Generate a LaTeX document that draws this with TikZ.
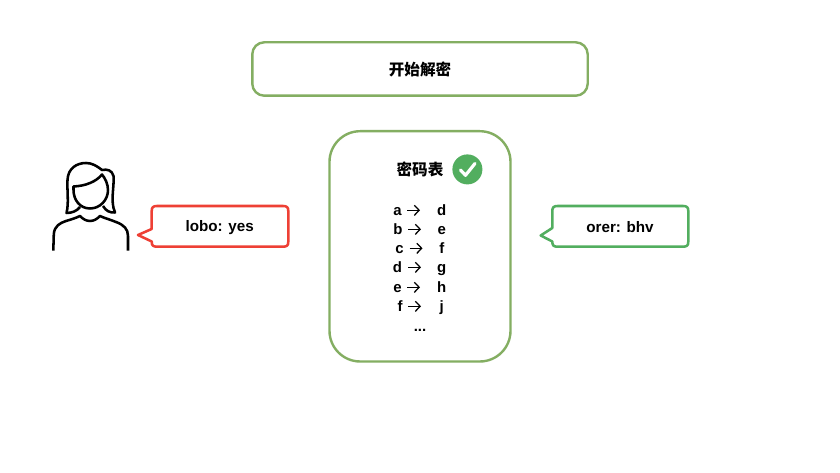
\documentclass[tikz,border=0pt]{standalone}
\usetikzlibrary{arrows.meta}
\usepackage{fontspec}
\setmainfont{Liberation Sans}
\newfontfamily\cjk{Noto Sans CJK SC}
\definecolor{boxgreen}{HTML}{84AE62}
\definecolor{okgreen}{HTML}{52AE5F}
\definecolor{alertred}{HTML}{EE4035}
\tikzset{
  panel/.style={draw=boxgreen,line width=1.8pt,fill=white},
  bubble/.style={line width=1.9pt,line join=round,fill=white},
  figure line/.style={line width=1.9pt,line cap=butt,line join=round,draw=black},
  label/.style={font=\fontsize{11.4}{13}\selectfont\bfseries,text=black,inner sep=0pt},
  title/.style={font=\fontsize{11.7}{13}\selectfont\cjk\bfseries,text=black,inner sep=0pt},
  row/.style={font=\fontsize{11.2}{13}\selectfont\bfseries,text=black,inner sep=0pt,anchor=base},
  rowarrow/.style={draw=black,line width=0.95pt,-{Straight Barb[length=3.6pt,width=7.6pt,line width=0.95pt]}}
}
\begin{document}
\begin{tikzpicture}[x=0.75pt,y=-0.75pt]
\useasboundingbox (0,0) rectangle (840,473);
\fill[white] (0,0) rectangle (840,473);
% top box
\draw[panel,rounded corners=9pt] (252.3,42.3) rectangle (587.7,95.7);
\node[title] (start) at (420,69) {开始解密};
% table box
\draw[panel,rounded corners=23pt] (329.5,131.2) rectangle (510.5,361.5);
\node[title] (tabletitle) at (420,169) {密码表};
\fill[okgreen] (467.4,169.4) circle (15);
\draw[white,line width=2.4pt,line cap=round,line join=round] (460.5,170) -- (465.5,175.3) -- (475,163.5);
% rows
\foreach \nm/\l/\r/\lx/\ax/\y in {ra/a/d/397.5/413.5/215,rb/b/e/398/414.5/234,rc/c/f/399.5/416/253,rd/d/g/397.5/414.5/272,re/e/h/397.5/413.5/292,rf/f/j/400/414.5/311}{
  \node[row] (\nm l) at (\lx,\y+1) {\l};
  \coordinate (\nm t) at (\ax-6.5,\y-4.7);
  \coordinate (\nm h) at (\ax+6.5,\y-4.7);
  \draw[rowarrow] (\nm t) -- (\nm h);
  \node[row] (\nm r) at (441.8,\y+1) {\r};
}
\node[row] (dots) at (420,332) {...};
% person
\draw[figure line] (53.3,250.7) -- (53.8,234) .. controls (54.5,226) and (60,223) .. (66,221) .. controls (71,219.5) and (76,218) .. (80,216) .. controls (83,219) and (86,221) .. (90,221) .. controls (94,221) and (97,219) .. (100,216) .. controls (104,218) and (110,219.5) .. (116,222) .. controls (124,225) and (128,229) .. (128,236) -- (128,250.7);
\draw[figure line] (80,207) .. controls (77,211) and (72,213) .. (66.5,213) .. controls (69,203) and (67,192) .. (67.5,180) .. controls (68,168) and (77,163) .. (86,163) .. controls (92,163) and (97,166) .. (102,170) .. controls (107,169) and (112,170) .. (113.5,176) .. controls (114.5,187) and (110,201) .. (115,212.5) .. controls (110,213) and (106,211) .. (103,206);
\draw[figure line] (73.5,186.5) .. controls (85,186) and (96,182) .. (102,174.5) .. controls (105,178) and (108,184) .. (108,190) .. controls (108,200) and (100,208.5) .. (90,208.5) .. controls (80,208.5) and (73.5,200) .. (73.5,190) -- cycle;
% red bubble
\draw[bubble,draw=alertred] (151.7,229) -- (151.7,211) .. controls (151.7,207.5) and (153,206) .. (157,206) -- (283,206) .. controls (287,206) and (288.3,207.5) .. (288.3,211) -- (288.3,241.5) .. controls (288.3,245.5) and (287,246.7) .. (283,246.7) -- (157,246.7) .. controls (153,246.7) and (151.7,245.5) .. (151.7,241.5) -- (138,235) -- cycle;
\node[label] (lobo) at (219.7,227.5) {lobo: yes};
% green bubble
\draw[bubble,draw=okgreen] (552.3,228) -- (552.3,211) .. controls (552.3,207.5) and (553.6,206) .. (557.6,206) -- (683,206) .. controls (687,206) and (688.3,207.5) .. (688.3,211) -- (688.3,241.5) .. controls (688.3,245.5) and (687,246.7) .. (683,246.7) -- (557.6,246.7) .. controls (553.6,246.7) and (552.3,245.5) .. (552.3,241.5) -- (540.7,235.5) -- cycle;
\node[label] (orer) at (620,227.5) {orer: bhv};
\end{tikzpicture}
\end{document}
